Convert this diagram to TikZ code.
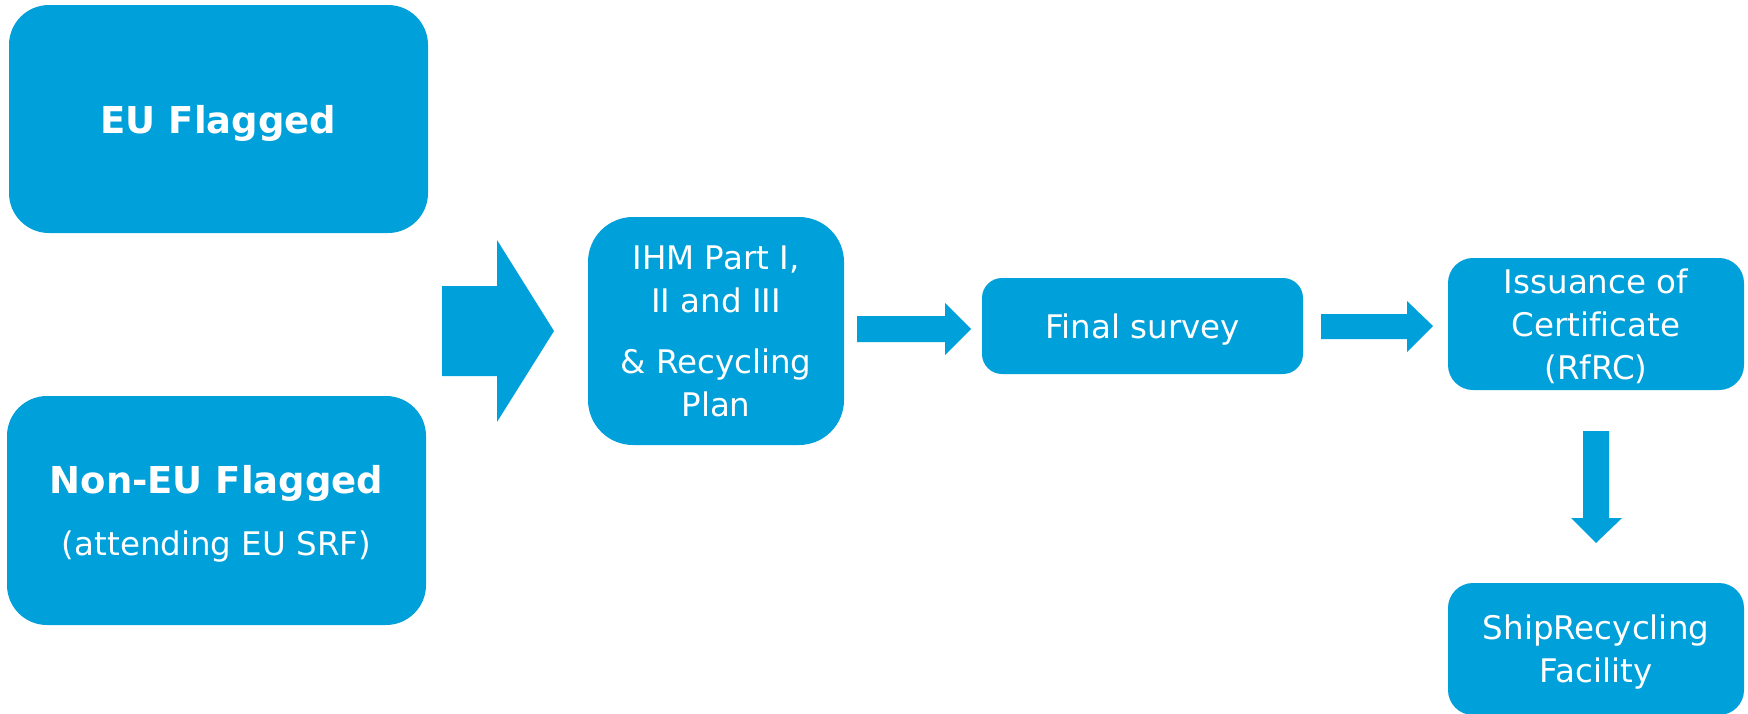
\documentclass[tikz,border=0pt]{standalone}
\usepackage{fontspec}
\setmainfont{DejaVu Sans}[Ligatures=NoCommon]
\definecolor{brand}{RGB}{0,160,218}
\begin{document}
\begin{tikzpicture}[x=1pt,y=-1pt,
  box/.style={fill=brand, text=white, align=center, inner sep=0pt, text depth=0pt,
    font=\fontsize{32.5}{43}\selectfont},
  blockarrow/.style={fill=brand}]
\useasboundingbox (0,0) rectangle (1748,713);
% boxes
\node[box, rounded corners=40pt, minimum width=419pt, minimum height=228pt] (eu) at (218.5,119)
  {\bfseries\fontsize{37}{43}\selectfont EU Flagged};
\node[box, rounded corners=40pt, minimum width=419pt, minimum height=229pt] (noneu) at (216.5,510.5)
  {{\bfseries\fontsize{37}{43}\selectfont Non-EU Flagged}\\[19pt](attending EU SRF)};
\node[box, rounded corners=45pt, minimum width=256pt, minimum height=228pt] (ihm) at (716,331)
  {IHM Part I,\\II and III\\[18pt]\& Recycling\\Plan};
\node[box, rounded corners=20pt, minimum width=321pt, minimum height=96pt] (final) at (1142.5,326)
  {Final survey};
\node[box, rounded corners=25pt, minimum width=296pt, minimum height=132pt] (issue) at (1596,324)
  {Issuance of\\Certificate\\(RfRC)};
\node[box, rounded corners=25pt, minimum width=296pt, minimum height=132pt] (srf) at (1596,649)
  {ShipRecycling\\Facility};
% block arrows
\fill[blockarrow] (442,286) -- (497,286) -- (497,240) -- (554,331) -- (497,422) -- (497,376) -- (442,376) -- cycle;
\fill[blockarrow] (857,316) -- (945,316) -- (945,303) -- (971,329) -- (945,355) -- (945,342) -- (857,342) -- cycle;
\fill[blockarrow] (1321,314) -- (1407,314) -- (1407,301) -- (1433,326) -- (1407,352) -- (1407,339) -- (1321,339) -- cycle;
\fill[blockarrow] (1583,431) -- (1609,431) -- (1609,518) -- (1622,518) -- (1596,543) -- (1571,518) -- (1583,518) -- cycle;
\end{tikzpicture}
\end{document}
